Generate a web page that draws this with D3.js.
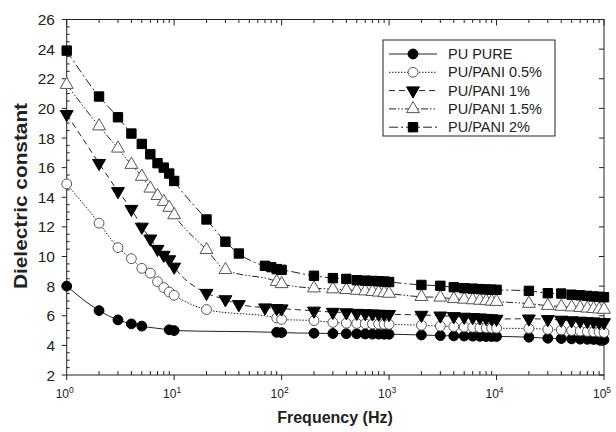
<!DOCTYPE html>
<html>
<head>
<meta charset="utf-8">
<script src="https://cdn.jsdelivr.net/npm/d3@7"></script>
<style>
body { margin: 0; background: #fff; }
text { font-family: "Liberation Sans", Arial, sans-serif; fill: #222; }
</style>
</head>
<body>
<div id="chart"></div>
<script>
// frequencies (Hz) shared by all series, null = no point at that frequency
var freq = [1, 2, 3, 4, 5, 6, 7, 8, 9, 10,
  20, 30, 40, 50, 60, 70, 80, 90, 100,
  200, 300, 400, 500, 600, 700, 800, 900, 1000,
  2000, 3000, 4000, 5000, 6000, 7000, 8000, 9000, 10000,
  20000, 30000, 40000, 50000, 60000, 70000, 80000, 90000, 100000];

var puPure = [8.0, 6.35, 5.72, 5.45, 5.3, null, null, null, 5.05, 5.0,
  null, null, null, null, null, null, null, 4.88, 4.86,
  4.82, 4.8, 4.79, 4.78, 4.77, 4.76, 4.76, 4.75, 4.75,
  4.7, 4.66, 4.64, 4.63, 4.62, 4.61, 4.6, 4.6, 4.6,
  4.55, 4.48, 4.46, 4.44, 4.42, 4.41, 4.4, 4.38, 4.37];

var pani05 = [14.9, 12.25, 10.6, 9.85, 9.2, 8.88, 8.3, 7.9, 7.6, 7.38,
  6.42, null, null, null, null, null, null, 5.85, 5.75,
  5.67, 5.55, 5.5, 5.48, 5.46, 5.45, 5.44, 5.43, 5.42,
  5.36, 5.3, 5.27, 5.24, 5.22, 5.2, 5.18, 5.17, 5.16,
  5.14, 5.08, 5.04, 5.0, 4.97, 4.94, 4.92, 4.9, 4.87];

var pani1 = [19.6, 16.3, 14.4, 13.2, 12.0, 11.2, 10.5, 10.1, 9.8, 9.3,
  7.53, 7.1, 6.77, null, null, 6.55, null, 6.5, 6.48,
  6.33, 6.25, 6.22, 6.18, 6.16, 6.14, 6.12, 6.11, 6.1,
  6.05, 6.0, 5.96, 5.92, 5.9, 5.87, 5.84, 5.81, 5.78,
  5.8, 5.76, 5.72, 5.68, 5.65, 5.62, 5.6, 5.57, 5.55];

var pani15 = [21.6, 18.8, 17.3, 16.2, 15.4, 14.6, 14.1, 13.7, 13.3, 12.8,
  10.45, 9.1, null, null, null, null, null, 8.3, 8.15,
  7.86, 7.8, 7.75, 7.7, 7.66, 7.62, 7.58, 7.54, 7.5,
  7.28, 7.24, 7.14, 7.1, 7.06, 7.03, 7.0, 6.97, 6.95,
  6.82, 6.68, 6.62, 6.58, 6.54, 6.5, 6.47, 6.44, 6.42];

var pani2 = [23.9, 20.8, 19.4, 18.3, 17.6, 16.9, 16.3, 16.0, 15.6, 15.1,
  12.5, 11.0, 10.2, null, null, 9.37, 9.28, 9.15, 9.1,
  8.7, 8.54, 8.49, 8.4, 8.37, 8.35, 8.33, 8.31, 8.28,
  8.08, 8.02, 7.93, 7.86, 7.83, 7.8, 7.78, 7.76, 7.75,
  7.68, 7.52, 7.5, 7.42, 7.38, 7.34, 7.3, 7.28, 7.25];

var seriesNames = ["PU PURE", "PU/PANI 0.5%", "PU/PANI 1%", "PU/PANI 1.5%", "PU/PANI 2%"];
var seriesValues = [puPure, pani05, pani1, pani15, pani2];

var xTickValues = [1, 10, 100, 1000, 10000, 100000];
var xTickExponents = ["0", "1", "2", "3", "4", "5"];
var yTickValues = [2, 4, 6, 8, 10, 12, 14, 16, 18, 20, 22, 24, 26];

// styles per series
var dashes = [null, "1.5,1.5", "6,4", "7,2,1.5,2,1.5,2", "9,3,2,3"];
var symbols = [d3.symbolCircle, d3.symbolCircle, d3.symbolTriangle, d3.symbolTriangle, d3.symbolSquare];
var symSizes = [76, 76, 72, 72, 88];
var rotations = [0, 0, 180, 0, 0];
var filled = [true, false, true, false, true];

var W = 616, H = 432;
var pLeft = 66.7, pRight = 604, pTop = 19.5, pBottom = 375;

var svg = d3.select("#chart").append("svg")
  .attr("width", W).attr("height", H);

var x = d3.scaleLog().domain([1, 100000]).range([pLeft, pRight]);
var y = d3.scaleLinear().domain([2, 26]).range([pBottom, pTop]);

// frame
svg.append("rect")
  .attr("x", pLeft).attr("y", pTop)
  .attr("width", pRight - pLeft).attr("height", pBottom - pTop)
  .attr("fill", "none").attr("stroke", "#222").attr("stroke-width", 1);

var tickG = svg.append("g").attr("stroke", "#222").attr("stroke-width", 1);

// x ticks: minor inward, major outward at bottom; inward at top
var minorX = [];
for (var e = 0; e < 5; e++) {
  for (var m = 2; m <= 9; m++) minorX.push(m * Math.pow(10, e));
}
minorX.forEach(function(v) {
  var px = x(v);
  tickG.append("line").attr("x1", px).attr("x2", px).attr("y1", pBottom).attr("y2", pBottom - 4);
  tickG.append("line").attr("x1", px).attr("x2", px).attr("y1", pTop).attr("y2", pTop + 3.5);
});
xTickValues.forEach(function(v) {
  var px = x(v);
  tickG.append("line").attr("x1", px).attr("x2", px).attr("y1", pBottom).attr("y2", pBottom + 5);
  tickG.append("line").attr("x1", px).attr("x2", px).attr("y1", pTop).attr("y2", pTop + 6);
});

// y ticks: major outward left, minor inward; right side major inward
yTickValues.forEach(function(v) {
  var py = y(v);
  tickG.append("line").attr("x1", pLeft - 5).attr("x2", pLeft).attr("y1", py).attr("y2", py);
  tickG.append("line").attr("x1", pRight).attr("x2", pRight - 5).attr("y1", py).attr("y2", py);
});
d3.range(2, 26, 0.5).forEach(function(v) {
  if (v % 2 === 0) return;
  var py = y(v);
  tickG.append("line").attr("x1", pLeft).attr("x2", pLeft + 3).attr("y1", py).attr("y2", py);
});

// tick labels
xTickValues.forEach(function(v, i) {
  var t = svg.append("text")
    .attr("x", x(v) - 2).attr("y", 398)
    .attr("text-anchor", "middle")
    .attr("font-size", 12);
  t.append("tspan").text("10");
  t.append("tspan").attr("dy", -5).attr("font-size", 8.5).text(xTickExponents[i]);
});
yTickValues.forEach(function(v) {
  svg.append("text")
    .attr("x", 55).attr("y", y(v) + 5.5)
    .attr("text-anchor", "end")
    .attr("font-size", 15.5)
    .text(v);
});

// axis titles
svg.append("text")
  .attr("x", 335).attr("y", 423)
  .attr("text-anchor", "middle")
  .attr("font-size", 16).attr("font-weight", "bold")
  .text("Frequency (Hz)");
svg.append("text")
  .attr("transform", "translate(27,196) rotate(-90)")
  .attr("text-anchor", "middle")
  .attr("font-size", 17.5).attr("font-weight", "bold")
  .attr("textLength", 186).attr("lengthAdjust", "spacingAndGlyphs")
  .text("Dielectric constant");

// lines and markers
var line = d3.line()
  .x(function(d) { return x(d.f); })
  .y(function(d) { return y(d.v); })
  .curve(d3.curveMonotoneX);

function drawMarker(g, i, px, py) {
  g.append("path")
    .attr("d", d3.symbol().type(symbols[i]).size(symSizes[i])())
    .attr("transform", "translate(" + px + "," + py + ") rotate(" + rotations[i] + ")")
    .attr("fill", filled[i] ? "#000" : "#fff")
    .attr("stroke", filled[i] ? "#000" : "#555")
    .attr("stroke-width", 1);
}

seriesValues.forEach(function(vals, i) {
  var pts = [];
  vals.forEach(function(v, j) { if (v !== null) pts.push({ f: freq[j], v: v }); });
  svg.append("path")
    .datum(pts)
    .attr("d", line)
    .attr("fill", "none")
    .attr("stroke", "#222")
    .attr("stroke-width", 1)
    .attr("stroke-dasharray", dashes[i]);
});
seriesValues.forEach(function(vals, i) {
  var g = svg.append("g");
  vals.forEach(function(v, j) {
    if (v === null) return;
    drawMarker(g, i, x(freq[j]), y(v));
  });
});

// legend
var lg = svg.append("g");
lg.append("rect")
  .attr("x", 383).attr("y", 40).attr("width", 172).attr("height", 96)
  .attr("fill", "#fff").attr("stroke", "#222").attr("stroke-width", 1);
seriesNames.forEach(function(name, i) {
  var ly = 54 + i * 18.3;
  lg.append("line")
    .attr("x1", 389).attr("x2", 437).attr("y1", ly).attr("y2", ly)
    .attr("stroke", "#222").attr("stroke-width", 1)
    .attr("stroke-dasharray", dashes[i]);
  drawMarker(lg, i, 413, ly);
  lg.append("text")
    .attr("x", 448).attr("y", ly + 5)
    .attr("font-size", 14.5)
    .text(name);
});
</script>
</body>
</html>
